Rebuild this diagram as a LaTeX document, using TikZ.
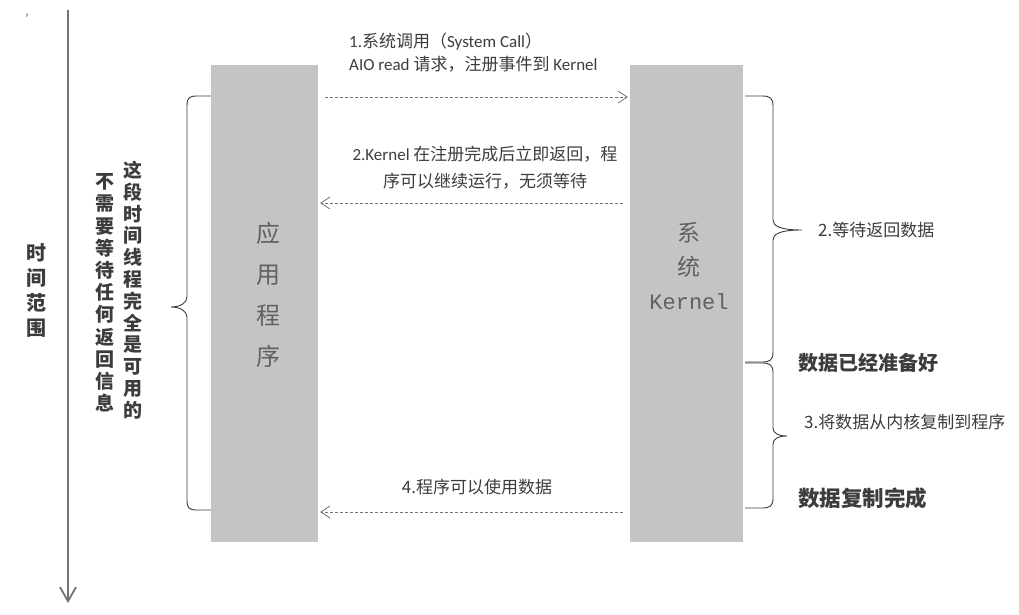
\documentclass[tikz,border=0pt]{standalone}
\usepackage{fontspec}
\setmainfont{Noto Sans CJK SC}
\newfontfamily\lat{Carlito}
\newfontfamily\mono{Liberation Mono}
\usetikzlibrary{arrows.meta}
\definecolor{boxgray}{RGB}{196,196,196}
\definecolor{inkgray}{RGB}{60,60,60}
\definecolor{linegray}{RGB}{115,115,115}

\begin{document}
\begin{tikzpicture}[x=1pt,y=-1pt,
  procbox/.style={fill=boxgray,minimum height=477pt,inner sep=0pt},
  boxtext/.style={text=black!62,align=center,inner sep=0pt},
  call/.style={draw=linegray,line width=0.8pt,dash pattern=on 3pt off 2pt,
    -{Straight Barb[length=9pt,width=12pt]},shorten >=2pt,shorten <=7pt},
  msg/.style={text=inkgray,font=\fontsize{17}{27}\selectfont,inner sep=0pt},
  brc/.style={draw=inkgray,line width=0.9pt},
  vtext/.style={text=inkgray,align=center,inner sep=0pt,font=\bfseries\fontsize{19}{21.8}\selectfont}]
\useasboundingbox (0,0) rectangle (1019,614);

% time axis
\draw[linegray,line width=1.4pt,-{Straight Barb[length=14pt,width=16pt,line width=1.8pt]}] (68,10) -- (68,603);
\node[text=inkgray,inner sep=0pt] (dot) at (27,16) {,};
\node[vtext,font=\bfseries\fontsize{20}{25}\selectfont] (span) at (37,290) {时\\间\\范\\围};

% the two sides
\node[procbox,minimum width=107pt] (app) at (264.5,303.5) {};
\node[procbox,minimum width=113pt] (kern) at (686.5,303.5) {};
\node[boxtext,font=\fontsize{24}{41}\selectfont] (appname) at (268,295) {应\\用\\程\\序};
\node[boxtext,font=\fontsize{23}{34}\selectfont] (kernname) at (689,266) {系\\统\\{\mono\fontsize{22}{34}\selectfont Kernel}};

% left brace and its text
\draw[brc] (211,96) -- (197,96) .. controls (189,96) and (187,98) .. (187,106) -- (187,297)
  .. controls (187,303) and (180,307) .. (171,307) .. controls (180,307) and (187,311) .. (187,317)
  -- (187,500) .. controls (187,508) and (189,510) .. (197,510) -- (211,510);
\node[vtext] (free) at (133,290) {这\\段\\时\\间\\线\\程\\完\\全\\是\\可\\用\\的};
\node[vtext,font=\bfseries\fontsize{19}{22.2}\selectfont] (nowait) at (105,293) {不\\需\\要\\等\\待\\任\\何\\返\\回\\信\\息};

% calls between app and kernel
\coordinate (t1) at (0,97);
\coordinate (t2) at (0,203);
\coordinate (t4) at (0,512);
\draw[call] (app.east |- t1) -- (kern.west |- t1);
\draw[call] (kern.west |- t2) -- (app.east |- t2);
\draw[call] (kern.west |- t4) -- (app.east |- t4);
\node[msg,anchor=west,align=left,font=\fontsize{17}{23}\selectfont] (m1) at (349,53) {{\lat 1.}系统调用（{\lat System Call}）\\{\lat AIO read }请求，注册事件到{\lat{} Kernel}};
\node[msg,align=center] (m2) at (485,168) {{\lat 2.Kernel }在注册完成后立即返回，程\\序可以继续运行，无须等待};
\node[msg] (m4) at (477,487) {4.程序可以使用数据};

% right braces
\draw[brc] (745,96) -- (762,96) .. controls (770,96) and (773,98) .. (773,106) -- (773,220)
  .. controls (773,226) and (780,230) .. (802,230) .. controls (780,230) and (773,234) .. (773,240)
  -- (773,352) .. controls (773,360) and (770,362) .. (762,362) -- (745,362);
\draw[brc] (745,363) -- (762,363) .. controls (770,363) and (773,365) .. (773,373) -- (773,428)
  .. controls (773,433) and (778,436) .. (787,436) .. controls (778,436) and (773,439) .. (773,444)
  -- (773,498) .. controls (773,506) and (770,508) .. (762,508) -- (745,508);
\node[msg,anchor=west] (wait) at (818,230) {2.等待返回数据};
\node[msg,anchor=west] (copy) at (804,422) {3.将数据从内核复制到程序};
\node[msg,anchor=west,font=\bfseries\fontsize{20}{24}\selectfont] (ready) at (798,363) {数据已经准备好};
\node[msg,anchor=west,font=\bfseries\fontsize{21.5}{24}\selectfont] (done) at (798,498) {数据复制完成};
\end{tikzpicture}
\end{document}
